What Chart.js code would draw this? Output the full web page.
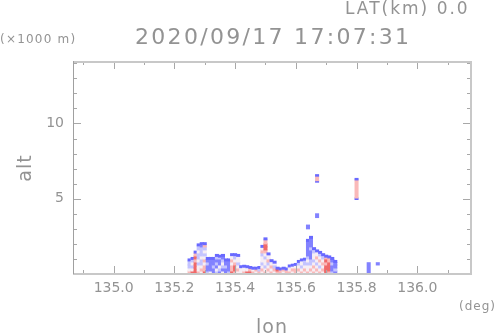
<!DOCTYPE html>
<html>
<head>
<meta charset="utf-8">
<script src="https://cdn.jsdelivr.net/npm/chart.js@4/dist/chart.umd.min.js"></script>
<style>
    html, body { margin: 0; padding: 0; background: #ffffff; }
    canvas { display: block; }
</style>
</head>
<body>
<canvas id="sectionChart" width="498" height="336"></canvas>
<script>
// ===== DATA =====
const titleText = "2020/09/17 17:07:31";
const latText = "LAT(km) 0.0";

// echo columns (lon, deg) and their top (km)
const colLon = [
    135.25, 135.26, 135.27, 135.28, 135.29, 135.30, 135.31, 135.32, 135.33, 135.34,
    135.35, 135.36, 135.37, 135.38, 135.39, 135.40, 135.41, 135.42, 135.43, 135.44,
    135.45, 135.46, 135.47, 135.48, 135.49, 135.50, 135.51, 135.52, 135.53, 135.54,
    135.55, 135.56, 135.57, 135.58, 135.59, 135.60, 135.61, 135.62, 135.63, 135.64,
    135.65, 135.66, 135.67, 135.68, 135.69, 135.70, 135.71, 135.72, 135.73
];
const colTop = [
    1.0, 1.1, 1.52, 2.0, 2.08, 2.08, 1.1, 1.1, 1.1, 1.3,
    1.25, 1.3, 1.0, 1.0, 1.35, 1.35, 1.3, 0.55, 0.58, 0.55,
    0.5, 0.45, 0.45, 0.5, 1.9, 2.4, 1.4, 0.95, 0.85, 0.45,
    0.4, 0.45, 0.4, 0.6, 0.65, 0.7, 0.9, 1.0, 1.05, 2.3,
    2.5, 1.75, 1.6, 1.5, 1.35, 1.25, 1.2, 1.1, 0.9
];
// layer thickness of one cell and of the top edge (km)
const layerKm = 0.2;
const edgeKm = 0.13;
// cell values per column, bottom up: -3 edge blue, -2 blue, -1 light blue, 0 white, 1 pink, 2 red
const colCells = [
    [1, 0, -1, -1, -3],
    [2, 0, -1, 0, -1, -3],
    [2, 2, 2, 2, 1, 2, 1, -3],
    [1, 0, 0, -1, 0, -1, -1, 0, -1, -3],
    [0, 1, 0, -1, -1, 0, -1, -1, -1, -2, -3],
    [2, 1, 1, 0, 1, 0, -1, 0, -1, 1, -3],
    [-1, -2, -2, -1, -2, -3],
    [0, -2, -2, -2, -2, -3],
    [-2, -2, -1, -2, -2, -3],
    [-1, 0, -2, -1, -2, -1, -3],
    [-2, -1, 0, -2, -2, -1, -3],
    [0, -2, -1, 0, -1, -2, -3],
    [-2, -2, -1, -2, -3],
    [-1, -2, -2, -2, -3],
    [2, 1, 1, 0, 1, 0, -3],
    [1, 2, 2, 1, 0, -1, -3],
    [0, 1, 0, -1, 0, 0, -3],
    [0, 0, -3],
    [1, 0, -3],
    [2, 0, -3],
    [2, 1, -3],
    [1, 0, -3],
    [0, 1, -3],
    [1, -1, -3],
    [0, 1, 0, -1, 0, 0, -1, 1, 0, -3],
    [1, 0, -1, 0, 0, -1, 0, 1, 2, 2, 1, -3],
    [0, 1, 0, -1, 1, 0, -3],
    [1, 0, 1, 0, -3],
    [0, 1, -1, 0, -3],
    [1, 2, -3],
    [1, -3],
    [0, 1, -3],
    [1, -3],
    [1, 0, -3],
    [0, 1, 0, -3],
    [1, 1, 0, -3],
    [0, 1, 0, -1, -3],
    [1, 0, -1, 0, -3],
    [0, 1, 0, -1, -1, -3],
    [1, 0, 0, -1, 0, -1, -2, -2, -2, -2, -2, -3],
    [0, 1, 0, -1, -1, -2, -2, -2, -1, -2, -2, -2, -3],
    [1, 0, 1, 0, -1, 0, 0, -1, -3],
    [0, 1, 0, -1, 0, 1, 0, -3],
    [1, 0, -1, 0, 1, 0, -1, -3],
    [0, 1, 0, 1, 0, -1, -3],
    [2, 2, 2, 1, 2, 1, -3],
    [1, 2, 2, 2, 1, -3],
    [-1, -2, -2, -1, -2, -3],
    [-2, -1, -2, -2, -3]
];

// isolated echoes
const isoLon  = [135.64, 135.67, 135.67, 135.67, 135.67, 135.80, 135.80, 135.80, 135.84, 135.87];
const isoLo   = [3.0, 3.75, 6.1, 6.2, 6.5, 4.95, 5.05, 6.25, 0.0, 0.6];
const isoHi   = [3.25, 4.0, 6.2, 6.5, 6.6, 5.05, 6.25, 6.35, 0.75, 0.75];
const isoCell = [-2, -2, -3, 1, -3, -3, 1, -3, -2, -2];

// ===== COLOURS =====
const cellColor = {
    "-3": "rgb(105,105,255)",
    "-2": "rgb(130,130,255)",
    "-1": "rgb(196,196,255)",
    "0": "rgb(246,238,244)",
    "1": "rgb(250,185,185)",
    "2": "rgb(240,105,105)"
};
const textColor = "#939393";
const frameColor = "#c8c8c8";
const textFont = "'DejaVu Sans'";

// ===== BUILD CELLS =====
const cells = [];
colLon.forEach((lon, i) => {
    const top = colTop[i];
    const n = colCells[i].length;
    colCells[i].forEach((v, k) => {
        let lo = k * layerKm;
        let hi = Math.min((k + 1) * layerKm, top);
        if (k === n - 1) {
            lo = top - edgeKm;      // thin edge on top of the echo
            hi = top;
        } else if (k === n - 2) {
            hi = top - edgeKm;
        }
        cells.push({ x: lon, y: [lo, hi], v: v });
    });
});
isoLon.forEach((lon, i) => {
    cells.push({ x: lon, y: [isoLo[i], isoHi[i]], v: isoCell[i] });
});

// ===== FRAME, TICKS, TEXT =====
const framePlugin = {
    id: "frame",
    afterDraw(chart) {
        const { ctx, chartArea: a, scales: { x, y } } = chart;
        ctx.save();

        ctx.strokeStyle = "#a8a8a8";
        ctx.lineWidth = 1;
        x.ticks.forEach(t => {
            const px = Math.round(x.getPixelForValue(t.value)) + 0.5;
            const major = Math.abs(Math.round(t.value * 10)) % 2 === 0;
            const len = major ? 8 : 4;
            ctx.beginPath();
            ctx.moveTo(px, a.bottom);
            ctx.lineTo(px, a.bottom - len);
            ctx.moveTo(px, a.top);
            ctx.lineTo(px, a.top + len);
            ctx.stroke();
        });
        y.ticks.forEach(t => {
            const py = Math.round(y.getPixelForValue(t.value)) + 0.5;
            const major = Math.round(t.value) % 5 === 0;
            const len = major ? 8 : 4;
            ctx.beginPath();
            ctx.moveTo(a.left, py);
            ctx.lineTo(a.left + len, py);
            ctx.moveTo(a.right, py);
            ctx.lineTo(a.right - len, py);
            ctx.stroke();
        });

        // border
        ctx.strokeStyle = frameColor;
        ctx.lineWidth = 2;
        ctx.beginPath();
        ctx.moveTo(a.left, a.top + 1);
        ctx.lineTo(a.right, a.top + 1);
        ctx.lineTo(a.right, a.bottom);
        ctx.lineTo(a.left, a.bottom);
        ctx.stroke();
        ctx.strokeStyle = "#a0a0a0";
        ctx.lineWidth = 1;
        ctx.beginPath();
        ctx.moveTo(a.left + 0.5, a.top);
        ctx.lineTo(a.left + 0.5, a.bottom);
        ctx.stroke();

        // texts
        ctx.fillStyle = textColor;
        ctx.textBaseline = "middle";
        ctx.textAlign = "left";
        ctx.font = "22px " + textFont;
        ctx.letterSpacing = "2.3px";
        ctx.fillText(titleText, 135, 38);
        ctx.letterSpacing = "2px";
        ctx.font = "17px " + textFont;
        ctx.fillText(latText, 345, 10);
        ctx.letterSpacing = "1.2px";
        ctx.font = "12px " + textFont;
        ctx.fillText("(\u00d71000 m)", 0, 40);
        ctx.letterSpacing = "1px";
        ctx.fillText("(deg)", 459, 307);
        ctx.textAlign = "center";
        ctx.font = "19px " + textFont;
        ctx.fillText("lon", 272, 328);
        ctx.translate(26, 168);
        ctx.rotate(-Math.PI / 2);
        ctx.fillText("alt", 0, 0);
        ctx.restore();
    }
};

// ===== CHART =====
Chart.defaults.font.family = textFont;

new Chart(document.getElementById("sectionChart").getContext("2d"), {
    type: "bar",
    data: {
        datasets: [{
            data: cells,
            backgroundColor: c => cellColor[String(c.raw.v)],
            borderWidth: 0,
            inflateAmount: 0.5,
            barPercentage: 1,
            categoryPercentage: 1
        }]
    },
    options: {
        responsive: false,
        animation: false,
        devicePixelRatio: 1,
        layout: { padding: { top: 61, right: 27, left: 0, bottom: 0 } },
        plugins: { legend: { display: false }, tooltip: { enabled: false } },
        scales: {
            x: {
                type: "linear",
                min: 134.866,
                max: 136.177,
                offset: false,
                grid: { display: false, drawTicks: false },
                border: { display: false },
                ticks: {
                    stepSize: 0.1,
                    includeBounds: false,
                    autoSkip: false,
                    maxRotation: 0,
                    padding: 6,
                    color: textColor,
                    font: { size: 14 },
                    callback: v => Math.abs(Math.round(v * 10)) % 2 === 0 ? v.toFixed(1) : ""
                },
                afterFit: s => { s.height = 62; }
            },
            y: {
                min: 0,
                max: 14.15,
                grid: { display: false, drawTicks: false },
                border: { display: false },
                ticks: {
                    stepSize: 1,
                    includeBounds: false,
                    autoSkip: false,
                    padding: 9,
                    color: textColor,
                    font: { size: 14 },
                    callback: v => (v > 0 && v % 5 === 0) ? v : ""
                },
                afterFit: s => { s.width = 73; }
            }
        }
    },
    plugins: [framePlugin]
});
</script>
</body>
</html>
